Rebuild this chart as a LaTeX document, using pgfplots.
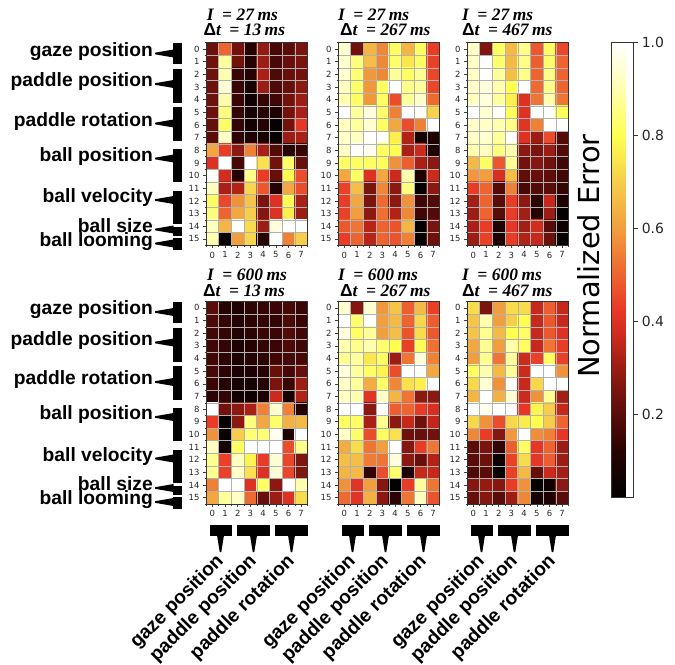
\documentclass[border=0pt]{standalone}
\usepackage{pgfplots}
\pgfplotsset{compat=1.18}
\usepackage{pgfplotstable}
\usepackage{fontspec}
\setmainfont{DejaVu Sans}
\newfontfamily\lsans{Liberation Sans}
\newfontfamily\lserif{Liberation Serif}

\pgfplotsset{
  colormap={hotc}{rgb255(2)=(0,0,0) rgb255(12)=(38,3,3) rgb255(20)=(90,12,9)
    rgb255(28)=(140,25,17) rgb255(35)=(192,38,26) rgb255(42)=(232,54,38)
    rgb255(50)=(237,100,48) rgb255(60)=(241,158,62) rgb255(70)=(247,205,75)
    rgb255(80)=(255,255,80) rgb255(90)=(255,255,175) rgb255(100)=(255,255,255)},
  hm/.style={
    axis on top, clip marker paths=true,
    scale only axis, width=101.5bp, height=202.5bp, anchor=north west,
    xmin=-0.5, xmax=7.5, ymin=-0.5, ymax=15.5, y dir=reverse,
    enlargelimits=false,
    xtick={0,...,7}, ytick={0,...,15},
    minor xtick={-0.5,0.5,...,7.5}, minor ytick={-0.5,0.5,...,15.5},
    xminorgrids, yminorgrids,
    minor grid style={color=black!30, line width=0.5pt},
    xtick pos=left, ytick pos=left,
    tick align=outside, major tick length=3bp, minor tick length=1.5bp,
    tick style={black!75, line width=0.5pt},
    axis line style={black!80, line width=0.6pt},
    ticklabel style={font=\fontsize{8.5}{9}\selectfont, text=black!85},
    /pgf/number format/assume math mode=true,
    colormap name=hotc,
    point meta min=0.02, point meta max=1.0,
  },
  hmplot/.style={scatter, only marks, mark=square*, mark size=6.36bp,
    point meta=explicit, line width=0pt,
    scatter/use mapped color={draw=mapped color, fill=mapped color}},
}

% cell values, row by row (8 columns per line, 16 lines)
% I = 27 ms, dt = 13 ms
\pgfplotstableread[row sep=\\]{c\\
0.23\\0.50\\0.24\\0.12\\0.29\\0.17\\0.20\\0.25\\
0.23\\0.88\\0.24\\0.12\\0.30\\0.17\\0.22\\0.25\\
0.23\\0.90\\0.15\\0.12\\0.32\\0.18\\0.22\\0.24\\
0.23\\0.95\\0.15\\0.08\\0.30\\0.18\\0.22\\0.28\\
0.23\\0.90\\0.15\\0.06\\0.14\\0.16\\0.24\\0.30\\
0.23\\0.85\\0.14\\0.08\\0.12\\0.10\\0.24\\0.32\\
0.22\\0.82\\0.14\\0.07\\0.12\\0.04\\0.24\\0.42\\
0.20\\0.93\\0.13\\0.10\\0.08\\0.04\\0.30\\0.32\\
0.62\\0.43\\0.28\\0.55\\0.32\\0.19\\0.12\\0.15\\
0.40\\1.00\\0.17\\1.00\\0.74\\0.24\\0.82\\0.22\\
1.00\\0.38\\0.12\\0.86\\0.43\\0.22\\0.80\\0.46\\
0.92\\0.32\\0.33\\0.72\\0.48\\0.12\\0.62\\0.46\\
0.82\\0.45\\0.58\\0.68\\0.25\\0.40\\0.80\\0.32\\
0.85\\0.50\\0.62\\0.70\\0.27\\0.40\\0.77\\0.30\\
0.92\\0.65\\1.00\\0.73\\0.30\\0.96\\1.00\\1.00\\
0.90\\0.04\\0.60\\0.72\\0.12\\1.00\\0.55\\0.70\\
}\dA
% I = 27 ms, dt = 267 ms
\pgfplotstableread[row sep=\\]{c\\
0.94\\0.24\\0.65\\0.56\\0.82\\0.65\\0.82\\0.43\\
0.94\\0.85\\0.67\\0.56\\0.83\\0.75\\0.82\\0.44\\
0.94\\0.84\\0.59\\0.56\\0.88\\0.82\\0.87\\0.45\\
0.92\\0.83\\0.59\\0.82\\1.00\\0.86\\0.88\\0.45\\
0.90\\0.82\\0.59\\0.82\\0.46\\0.88\\0.93\\0.51\\
1.00\\0.88\\0.96\\0.83\\0.55\\1.00\\0.99\\0.71\\
0.92\\0.88\\0.94\\0.82\\0.62\\0.46\\0.55\\1.00\\
0.93\\0.92\\1.00\\1.00\\0.77\\0.33\\0.08\\0.10\\
0.93\\1.00\\0.98\\0.82\\0.80\\0.32\\0.37\\0.10\\
0.82\\0.82\\0.82\\0.81\\0.58\\0.49\\0.32\\0.28\\
0.62\\0.82\\0.40\\0.62\\0.37\\0.90\\0.10\\0.37\\
0.44\\0.67\\0.25\\0.56\\0.28\\0.85\\0.03\\0.28\\
0.43\\0.62\\0.25\\0.51\\0.28\\0.58\\0.16\\0.19\\
0.44\\0.60\\0.28\\0.52\\0.33\\0.56\\0.16\\0.19\\
0.48\\0.53\\0.34\\0.50\\0.47\\0.65\\0.03\\0.25\\
0.43\\0.50\\0.34\\0.50\\0.47\\0.55\\0.04\\0.23\\
}\dB
% I = 27 ms, dt = 467 ms
\pgfplotstableread[row sep=\\]{c\\
0.93\\0.26\\0.82\\0.66\\0.86\\0.48\\0.82\\0.45\\
0.93\\1.00\\0.83\\0.66\\0.86\\0.49\\0.83\\0.50\\
0.93\\1.00\\0.88\\0.67\\0.86\\0.50\\0.86\\0.50\\
0.93\\0.96\\0.90\\0.80\\1.00\\0.51\\0.86\\0.50\\
0.92\\0.96\\0.88\\0.77\\0.40\\0.53\\0.90\\0.53\\
1.00\\0.94\\0.99\\0.81\\0.40\\1.00\\1.00\\0.81\\
0.93\\0.93\\0.90\\0.86\\0.41\\0.55\\1.00\\1.00\\
0.93\\0.94\\0.88\\1.00\\0.40\\0.30\\0.46\\0.19\\
0.90\\0.92\\0.85\\0.90\\0.28\\0.25\\0.30\\0.19\\
0.66\\0.82\\0.48\\0.87\\0.24\\0.27\\0.24\\0.16\\
0.59\\0.60\\0.39\\0.67\\0.21\\0.22\\0.21\\0.16\\
0.43\\0.50\\0.19\\0.55\\0.17\\0.19\\0.20\\0.14\\
0.31\\0.50\\0.20\\0.43\\0.28\\0.13\\0.36\\0.10\\
0.30\\0.50\\0.20\\0.43\\0.31\\0.12\\0.30\\0.03\\
0.32\\0.43\\0.10\\0.42\\0.31\\0.38\\0.20\\0.06\\
0.30\\0.44\\0.10\\0.43\\0.33\\0.36\\0.23\\0.04\\
}\dC
% I = 600 ms, dt = 13 ms
\pgfplotstableread[row sep=\\]{c\\
0.20\\0.12\\0.10\\0.13\\0.14\\0.15\\0.17\\0.15\\
0.18\\0.14\\0.12\\0.13\\0.14\\0.14\\0.18\\0.15\\
0.16\\0.14\\0.11\\0.13\\0.15\\0.15\\0.19\\0.16\\
0.16\\0.14\\0.10\\0.12\\0.14\\0.15\\0.18\\0.16\\
0.16\\0.13\\0.10\\0.12\\0.13\\0.16\\0.17\\0.17\\
0.17\\0.13\\0.09\\0.10\\0.12\\0.22\\0.17\\0.22\\
0.15\\0.12\\0.08\\0.08\\0.12\\0.25\\0.15\\0.30\\
0.13\\0.14\\0.07\\0.06\\0.10\\0.37\\0.08\\0.33\\
1.00\\0.24\\0.28\\0.32\\0.55\\0.94\\0.55\\0.12\\
0.43\\0.04\\0.28\\0.85\\0.62\\0.83\\0.64\\0.66\\
0.58\\0.05\\0.70\\0.84\\0.84\\0.98\\0.10\\1.00\\
0.92\\0.08\\0.82\\1.00\\1.00\\1.00\\0.46\\0.86\\
0.87\\0.44\\0.92\\0.78\\0.43\\0.95\\0.45\\0.26\\
0.87\\0.44\\0.93\\0.74\\0.40\\0.95\\0.45\\0.26\\
0.55\\1.00\\1.00\\0.40\\0.82\\0.28\\1.00\\0.90\\
0.62\\0.88\\0.93\\0.51\\0.22\\0.30\\0.40\\0.73\\
}\dD
% I = 600 ms, dt = 267 ms
\pgfplotstableread[row sep=\\]{c\\
0.94\\0.27\\0.94\\0.59\\0.68\\0.49\\0.66\\0.44\\
1.00\\0.83\\1.00\\0.60\\0.66\\0.50\\0.72\\0.49\\
0.96\\0.82\\0.88\\0.60\\0.67\\0.47\\0.73\\0.48\\
0.90\\0.86\\0.90\\0.83\\0.80\\0.44\\0.81\\0.52\\
0.87\\0.88\\0.75\\0.82\\0.30\\0.53\\0.95\\0.55\\
0.96\\0.88\\0.82\\0.78\\0.46\\1.00\\1.00\\0.62\\
0.93\\0.88\\0.63\\0.83\\0.56\\0.74\\0.77\\1.00\\
0.92\\0.90\\0.41\\0.93\\0.65\\0.53\\0.28\\0.28\\
1.00\\1.00\\0.28\\1.00\\0.49\\0.50\\0.43\\0.39\\
0.82\\0.82\\0.32\\0.87\\0.28\\0.36\\0.23\\0.35\\
0.93\\0.83\\0.46\\0.82\\0.74\\0.23\\0.22\\0.24\\
0.63\\0.73\\0.53\\0.60\\1.00\\0.27\\0.43\\0.53\\
0.67\\0.67\\0.54\\0.53\\0.96\\0.28\\0.22\\0.33\\
0.65\\0.66\\0.14\\0.46\\0.83\\0.10\\0.36\\0.36\\
0.58\\0.41\\0.60\\0.27\\0.02\\0.43\\0.88\\0.53\\
0.51\\0.41\\0.64\\0.28\\0.13\\0.53\\0.92\\0.47\\
}\dE
% I = 600 ms, dt = 467 ms
\pgfplotstableread[row sep=\\]{c\\
0.73\\0.25\\0.60\\0.73\\0.73\\0.36\\0.49\\0.36\\
0.68\\0.90\\0.60\\0.70\\0.80\\0.36\\0.48\\0.36\\
0.68\\0.87\\0.66\\0.80\\0.82\\0.36\\0.48\\0.40\\
0.62\\0.87\\0.60\\0.90\\0.82\\0.36\\0.53\\0.43\\
0.60\\0.87\\0.53\\0.88\\0.37\\0.44\\0.82\\0.44\\
0.82\\0.90\\0.66\\0.88\\0.37\\1.00\\1.00\\0.58\\
0.72\\0.95\\0.58\\1.00\\0.36\\0.72\\1.00\\1.00\\
0.65\\1.00\\0.64\\0.94\\0.37\\0.58\\0.87\\0.31\\
1.00\\0.98\\1.00\\1.00\\0.42\\0.78\\0.70\\0.36\\
0.72\\0.58\\0.46\\0.72\\0.76\\0.80\\0.70\\0.50\\
0.56\\0.43\\0.27\\0.59\\1.00\\0.57\\0.55\\0.42\\
0.20\\0.25\\0.14\\0.49\\0.82\\0.42\\0.50\\0.30\\
0.20\\0.23\\0.06\\0.44\\0.73\\0.42\\0.49\\0.30\\
0.18\\0.20\\0.04\\0.44\\0.66\\0.22\\0.37\\0.31\\
0.27\\0.29\\0.27\\0.43\\0.58\\0.03\\0.06\\0.28\\
0.22\\0.27\\0.20\\0.30\\0.56\\0.08\\0.10\\0.20\\
}\dF

% cell positions: row = row index div 8, column = row index mod 8
\newcommand\addpos[1]{%
  \pgfplotstablecreatecol[create col/expr={floor((\pgfplotstablerow+0.5)/8)}]{cy}#1%
  \pgfplotstablecreatecol[create col/expr={\pgfplotstablerow-8*floor((\pgfplotstablerow+0.5)/8)}]{cx}#1}
\addpos\dA \addpos\dB \addpos\dC \addpos\dD \addpos\dE \addpos\dF

\newcommand\ttl{\lserif\bfseries\itshape\fontsize{17.5}{18}\selectfont}
\newcommand\dlt{\lsans\bfseries\upshape}
\newcommand\lbl{\lsans\bfseries\fontsize{19.3}{20}\selectfont}
\newcommand\eqs[1]{\hspace{8.5bp}=\hspace{4.5bp}#1\hspace{3.5bp}ms}

\begin{document}
\begin{tikzpicture}
\useasboundingbox (0,0) rectangle (675bp,-665bp);

% ---- heatmaps ----
\begin{axis}[hm, at={(206bp,-42.7bp)}]
\addplot[hmplot] table[x=cx, y=cy, meta=c] {\dA};
\end{axis}
\begin{axis}[hm, at={(338bp,-42.7bp)}]
\addplot[hmplot] table[x=cx, y=cy, meta=c] {\dB};
\end{axis}
\begin{axis}[hm, at={(467bp,-42.7bp)},
  colorbar,
  colorbar style={
    xshift=34bp,
    scale only axis, width=22bp, height=455bp,
    ytick={0.2,0.4,0.6,0.8,1.0},
    ytick pos=right, yticklabel pos=right,
    tick align=outside, major tick length=5bp,
    tick style={black!80, line width=0.6pt},
    axis line style={black!80, line width=0.6pt},
    yticklabel style={font=\fontsize{14}{16}\selectfont, text=black!85,
      /pgf/number format/fixed, /pgf/number format/precision=1,
      /pgf/number format/fixed zerofill},
    /pgf/number format/assume math mode=true,
  }]
\addplot[hmplot] table[x=cx, y=cy, meta=c] {\dC};
\end{axis}
\begin{axis}[hm, at={(206bp,-301.5bp)}]
\addplot[hmplot] table[x=cx, y=cy, meta=c] {\dD};
\end{axis}
\begin{axis}[hm, at={(338bp,-301.5bp)}]
\addplot[hmplot] table[x=cx, y=cy, meta=c] {\dE};
\end{axis}
\begin{axis}[hm, at={(467bp,-301.5bp)}]
\addplot[hmplot] table[x=cx, y=cy, meta=c] {\dF};
\end{axis}

% ---- colorbar label ----
\node[rotate=90, anchor=south, inner sep=0pt, font=\fontsize{29}{30}\selectfont] at (600bp,-256bp) {Normalized Error};

% ---- titles ----
\node[anchor=base west, inner sep=0pt, font=\ttl] at (206.7bp,-20bp) {I\eqs{27}};
\node[anchor=base west, inner sep=0pt, font=\ttl] at (203.3bp,-35.5bp) {{\dlt Δ}t\eqs{13}};
\node[anchor=base west, inner sep=0pt, font=\ttl] at (338bp,-20bp) {I\eqs{27}};
\node[anchor=base west, inner sep=0pt, font=\ttl] at (340bp,-35.5bp) {{\dlt Δ}t\eqs{267}};
\node[anchor=base west, inner sep=0pt, font=\ttl] at (462bp,-20bp) {I\eqs{27}};
\node[anchor=base west, inner sep=0pt, font=\ttl] at (462bp,-35.5bp) {{\dlt Δ}t\eqs{467}};
\node[anchor=base west, inner sep=0pt, font=\ttl] at (207bp,-280bp) {I\eqs{600}};
\node[anchor=base west, inner sep=0pt, font=\ttl] at (203bp,-296bp) {{\dlt Δ}t\eqs{13}};
\node[anchor=base west, inner sep=0pt, font=\ttl] at (338bp,-280bp) {I\eqs{600}};
\node[anchor=base west, inner sep=0pt, font=\ttl] at (340bp,-296bp) {{\dlt Δ}t\eqs{267}};
\node[anchor=base west, inner sep=0pt, font=\ttl] at (462bp,-280bp) {I\eqs{600}};
\node[anchor=base west, inner sep=0pt, font=\ttl] at (462bp,-296bp) {{\dlt Δ}t\eqs{467}};

% ---- left group labels ----
\foreach \off in {0,258.5}{
  \begin{scope}[yshift=-\off bp]
  \foreach \lab/\ya/\yb/\yt in {gaze position/43/64/53.5, paddle position/69/103/84,
      paddle rotation/107/141/123.5, ball position/149/182/158.5,
      ball velocity/191/224/200, ball size/227/236/229.5, ball looming/238/250/243.5}{
    \fill (173bp,-\ya bp) rectangle (182bp,-\yb bp);
    \fill (155bp,-\yt bp) ++(0,0.8bp) -- ++(18.5bp,3.2bp) -- ++(0,-8bp) -- ++(-18.5bp,3.2bp) -- cycle;
    \node[anchor=mid east, inner sep=0pt, font=\lbl] at (153bp,-\yt bp) {\lab};
  }
  \end{scope}
}

% ---- bottom group labels ----
\foreach \px in {206,338,467}{
  \begin{scope}[xshift=\px bp]
  \foreach \lab/\xa/\xb in {gaze position/3.5/25.5, paddle position/31/64, paddle rotation/69/102}{
    \pgfmathsetmacro\xc{(\xa+\xb)/2}
    \fill (\xa bp,-525bp) rectangle (\xb bp,-536bp);
    \fill (\xc bp,-552bp) ++(-0.8bp,0) -- ++(-2.7bp,16.8bp) -- ++(7bp,0) -- ++(-2.7bp,-16.8bp) -- cycle;
    \node[rotate=45, anchor=mid east, inner sep=0pt, font=\lbl] at ([xshift=2bp,yshift=-8bp]\xc bp,-552bp) {\lab};
  }
  \end{scope}
}
\end{tikzpicture}
\end{document}
